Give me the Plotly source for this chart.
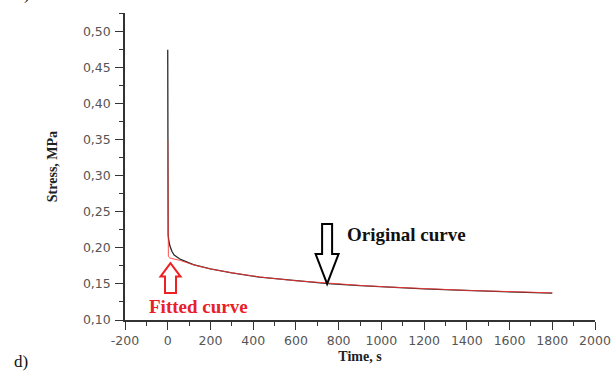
import plotly.graph_objects as go

# Original (measured) curve
time_orig = [0, 0, 2, 5, 10, 20, 30, 60, 120, 200, 300, 430, 590, 750, 900, 1040, 1200, 1390, 1650, 1800]
stress_orig = [0.475, 0.225, 0.218, 0.210, 0.203, 0.195, 0.190, 0.184, 0.177, 0.171, 0.1655, 0.1595,
               0.1545, 0.1505, 0.1478, 0.1455, 0.1432, 0.1410, 0.1388, 0.1372]

# Fitted curve
time_fit = [0, 1, 3, 10, 30, 60, 120, 200, 300, 430, 590, 750, 900, 1040, 1200, 1390, 1650, 1800]
stress_fit = [0.350, 0.205, 0.188, 0.186, 0.1845, 0.1825, 0.1765, 0.1708, 0.1655, 0.1597, 0.1547,
              0.1507, 0.1480, 0.1457, 0.1434, 0.1412, 0.1390, 0.1376]

x_ticks = list(range(-200, 2001, 200))
x_ticktext = [str(v) for v in x_ticks]
y_ticks = [0.10, 0.15, 0.20, 0.25, 0.30, 0.35, 0.40, 0.45, 0.50]

# annotation anchors (data coords)
orig_arrow_tip = (746, 0.150)
fit_arrow_tip = (13, 0.179)

fig = go.Figure()
fig.add_trace(go.Scatter(x=time_orig, y=stress_orig, mode="lines",
                         line=dict(color="#2a2a2a", width=1.3), showlegend=False))
fig.add_trace(go.Scatter(x=time_fit, y=stress_fit, mode="lines",
                         line=dict(color="rgba(255,50,50,0.85)", width=1.0), showlegend=False))

# hollow block arrows (pixel-sized paths anchored at data points)
fig.add_shape(type="path", xref="x", yref="y", xsizemode="pixel", ysizemode="pixel",
              xanchor=orig_arrow_tip[0], yanchor=orig_arrow_tip[1],
              path="M0,0 L-11.5,30 L-5,30 L-5,60 L5,60 L5,30 L11.5,30 Z",
              line=dict(color="black", width=2), fillcolor="white")
fig.add_shape(type="path", xref="x", yref="y", xsizemode="pixel", ysizemode="pixel",
              xanchor=fit_arrow_tip[0], yanchor=fit_arrow_tip[1],
              path="M0,0 L-10,-13.5 L-5.5,-13.5 L-5.5,-30 L5.5,-30 L5.5,-13.5 L10,-13.5 Z",
              line=dict(color="#ee2222", width=2), fillcolor="white")

serif = "Liberation Serif"
fig.add_annotation(x=832, y=0.218, xref="x", yref="y", text="<b>Original curve</b>",
                   showarrow=False, xanchor="left", yanchor="middle",
                   font=dict(family=serif, size=19, color="#111"))
fig.add_annotation(x=146, y=0.1185, xref="x", yref="y", text="<b>Fitted curve</b>",
                   showarrow=False, xanchor="center", yanchor="middle",
                   font=dict(family=serif, size=19, color="#e8202a"))
fig.add_annotation(x=(12 - 125) / 470, y=(320 - 361) / 307, xref="paper", yref="paper", text="d)",
                   showarrow=False, xanchor="left", yanchor="middle",
                   font=dict(family=serif, size=17, color="#111"))
fig.add_annotation(x=(14 - 125) / 470, y=(320 - 6) / 307, xref="paper", yref="paper", text="c)",
                   showarrow=False, xanchor="left", yanchor="bottom",
                   font=dict(family=serif, size=18, color="#111"))

axis_common = dict(showline=True, linecolor="#333", linewidth=1.5, ticks="outside",
                   ticklen=8, tickwidth=1.3, tickcolor="#333", showgrid=False, zeroline=False,
                   automargin=False,
                   tickfont=dict(family="DejaVu Sans", size=12.5, color="#555"))

fig.update_xaxes(range=[-200, 2000], tickvals=x_ticks, ticktext=x_ticktext,
                 minor=dict(ticks="outside", ticklen=4, dtick=100, tick0=-200, tickcolor="#333"),
                 title=dict(text="<b>Time, s</b>", font=dict(family=serif, size=14, color="#222"),
                            standoff=4),
                 **axis_common)
fig.update_yaxes(range=[0.10, 0.526], tickvals=y_ticks, tickformat=".2f",
                 minor=dict(ticks="outside", ticklen=4, dtick=0.025, tick0=0.10, tickcolor="#333"),
                 title=dict(text="<b>Stress, MPa</b>", font=dict(family=serif, size=14, color="#222"),
                            standoff=22),
                 ticklabelstandoff=2,
                 **axis_common)

fig.update_layout(width=613, height=372, margin=dict(l=125, r=18, t=13, b=52),
                  plot_bgcolor="white", paper_bgcolor="white", separators=",.")

fig.write_html("out.html", config={"displayModeBar": False},
               post_script="document.body.style.margin='0';")
